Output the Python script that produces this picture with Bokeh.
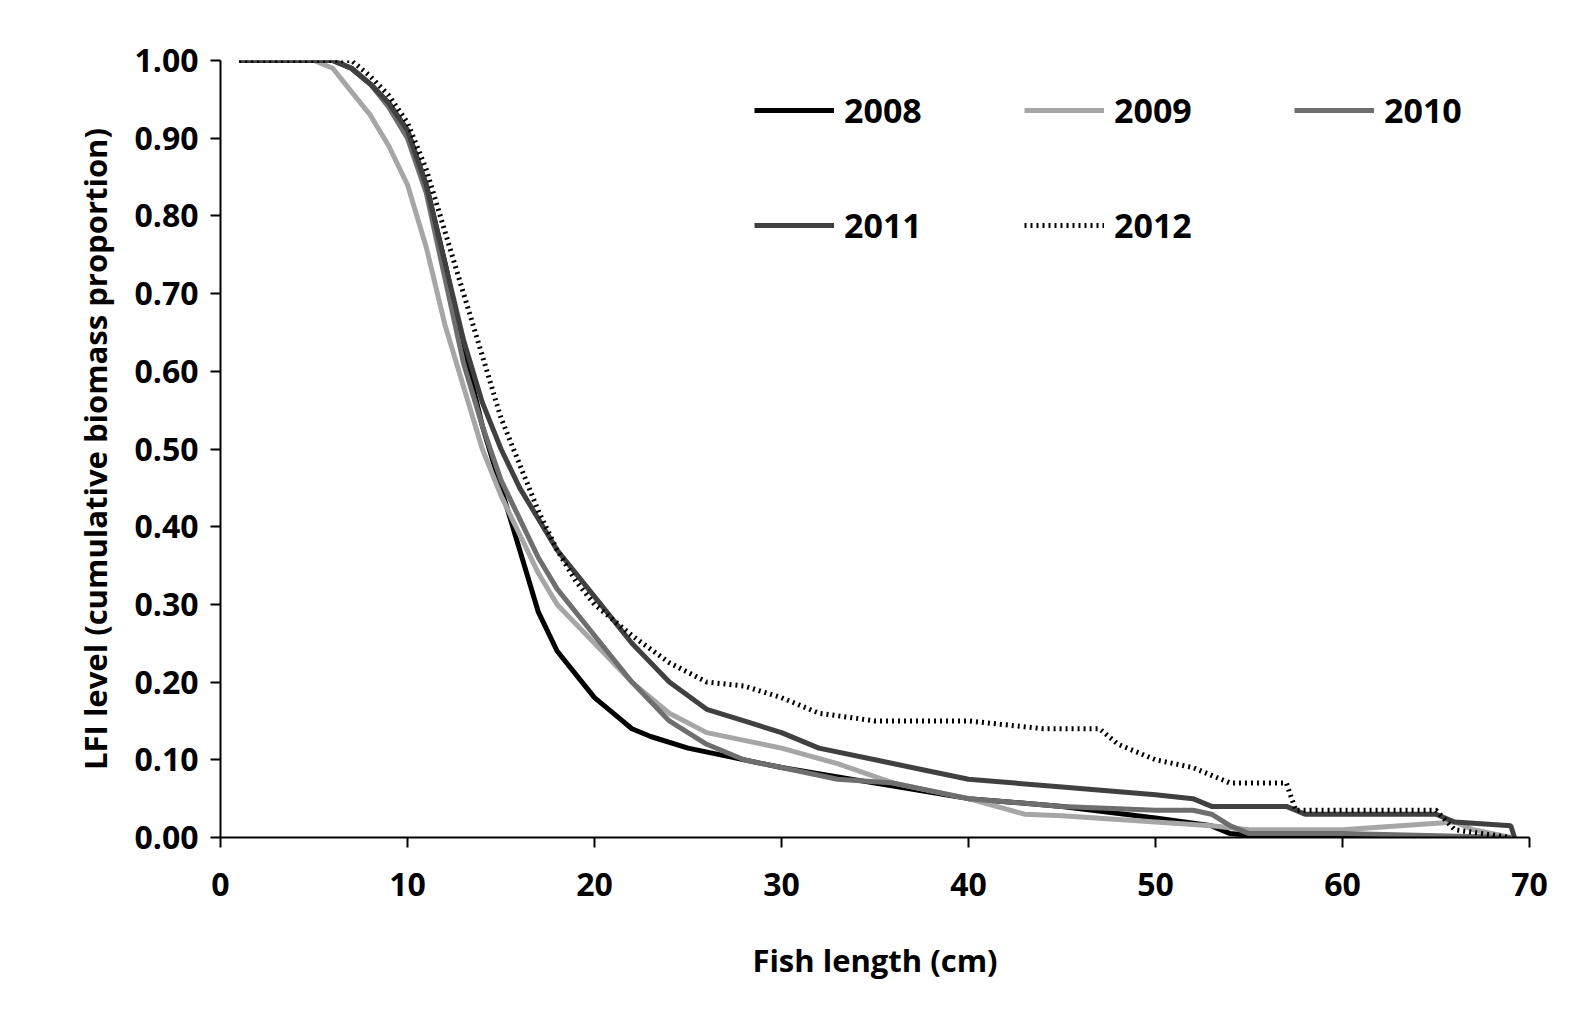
from bokeh.plotting import figure
from bokeh.models import Legend, LegendItem, SingleIntervalTicker, NumeralTickFormatter
from bokeh.embed import file_html
from bokeh.resources import INLINE

x2008 = [1,6,7,8,9,10,11,12,13,14,15,16,17,18,19,20,21,22,23,25,27,30,35,40,45,50,53,54,55,69]
y2008 = [1,1,0.99,0.97,0.945,0.91,0.84,0.74,0.63,0.53,0.45,0.37,0.29,0.24,0.21,0.18,0.16,0.14,0.13,0.115,0.105,0.09,0.07,0.05,0.04,0.025,0.015,0.005,0.003,0]
x2009 = [1,5,6,7,8,9,10,11,12,13,14,15,16,17,18,20,22,24,26,28,30,33,36,40,43,45,50,53,55,60,66,67,69]
y2009 = [1,1,0.99,0.96,0.93,0.89,0.84,0.76,0.66,0.58,0.50,0.44,0.39,0.34,0.30,0.25,0.20,0.16,0.135,0.125,0.115,0.095,0.07,0.05,0.03,0.028,0.02,0.015,0.01,0.01,0.02,0.01,0]
x2010 = [1,6,7,8,9,10,11,12,13,14,15,16,17,18,20,22,24,26,28,30,33,36,38,40,45,50,52,53,54,55,60,69]
y2010 = [1,1,0.99,0.97,0.94,0.90,0.83,0.72,0.61,0.53,0.46,0.41,0.36,0.32,0.26,0.20,0.15,0.12,0.10,0.09,0.075,0.07,0.06,0.05,0.04,0.035,0.035,0.03,0.015,0.005,0.005,0]
x2011 = [1,6,7,8,9,10,11,12,13,14,15,16,17,18,20,22,24,26,28,30,32,35,38,40,45,50,52,53,57,58,65,66,69,69.2]
y2011 = [1,1,0.99,0.97,0.945,0.91,0.84,0.74,0.64,0.56,0.50,0.45,0.41,0.37,0.31,0.25,0.20,0.165,0.15,0.135,0.115,0.10,0.085,0.075,0.065,0.055,0.05,0.04,0.04,0.03,0.03,0.02,0.015,0]
x2012 = [1,7,8,9,10,11,12,13,14,15,16,17,18,19,20,22,24,26,28,30,32,35,40,44,47,48,50,52,53,54,57,57.5,65,66,69]
y2012 = [1,1,0.98,0.955,0.92,0.86,0.78,0.70,0.62,0.54,0.48,0.42,0.37,0.33,0.30,0.26,0.225,0.20,0.195,0.18,0.16,0.15,0.15,0.14,0.14,0.12,0.10,0.09,0.08,0.07,0.07,0.035,0.035,0.01,0]

FONT = "Open Sans"
p = figure(width=1559, height=1018, x_range=(0, 70), y_range=(0, 1.0),
           output_backend="svg", toolbar_location=None,
           min_border_left=220, min_border_right=30, min_border_top=60, min_border_bottom=181)
p.outline_line_color = None
p.xgrid.visible = False
p.ygrid.visible = False

series = [("2008", x2008, y2008, "#000000", "solid"),
          ("2009", x2009, y2009, "#a6a6a6", "solid"),
          ("2010", x2010, y2010, "#6e6e6e", "solid"),
          ("2011", x2011, y2011, "#404040", "solid"),
          ("2012", x2012, y2012, "#000000", "dotted")]
rends = {}
for name, xs, ys, c, d in series:
    rends[name] = p.line(xs, ys, line_color=c, line_width=5, line_dash=d)

order = ["2008", "2011", "2009", "2012", "2010"]
items = [LegendItem(label=n, renderers=[rends[n]]) for n in order]
leg = Legend(items=items, location="top_right", ncols=3, border_line_color=None,
             background_fill_alpha=0, label_text_font=FONT, label_text_font_style="bold",
             label_text_font_size="34px", label_text_color="#000000",
             glyph_width=80, glyph_height=30, label_height=60,
             spacing=55, label_standoff=10, margin=20, padding=10)
leg.label_width = 125
p.add_layout(leg)

for ax in (p.xaxis[0], p.yaxis[0]):
    ax.axis_line_color = "#000000"
    ax.axis_line_width = 2
    ax.major_tick_line_color = "#000000"
    ax.major_tick_line_width = 2
    ax.major_tick_out = 10
    ax.major_tick_in = 0
    ax.minor_tick_line_color = None
    ax.major_label_text_font = FONT
    ax.major_label_text_font_style = "bold"
    ax.major_label_text_font_size = "32px"
    ax.major_label_text_color = "#000000"
    ax.axis_label_text_font = FONT
    ax.axis_label_text_font_style = "bold"
    ax.axis_label_text_font_size = "31px"
    ax.axis_label_text_color = "#000000"

p.xaxis.ticker = SingleIntervalTicker(interval=10)
p.yaxis.ticker = SingleIntervalTicker(interval=0.1)
p.yaxis.formatter = NumeralTickFormatter(format="0.00")
p.xaxis.axis_label = "Fish length (cm)"
p.yaxis.axis_label = "LFI level (cumulative biomass proportion)"
p.xaxis.major_label_standoff = 25
p.xaxis.axis_label_standoff = 40
p.yaxis.major_label_standoff = 12
p.yaxis.axis_label_standoff = 15

open("out.html", "w").write(file_html(p, INLINE))
